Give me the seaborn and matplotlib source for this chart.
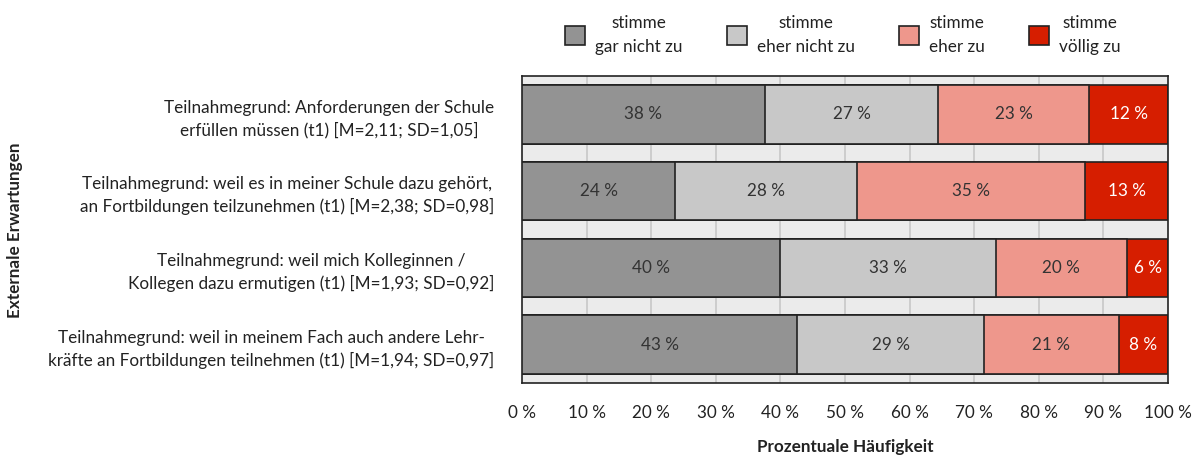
import matplotlib
matplotlib.use("Agg")
import matplotlib.pyplot as plt
import seaborn as sns
import numpy as np
import pandas as pd
from matplotlib.patches import Patch
from matplotlib.ticker import FixedLocator

items = [
    "Teilnahmegrund: Anforderungen der Schule\nerfüllen müssen (t1) [M=2,11; SD=1,05]",
    "Teilnahmegrund: weil es in meiner Schule dazu gehört,\nan Fortbildungen teilzunehmen (t1) [M=2,38; SD=0,98]",
    "Teilnahmegrund: weil mich Kolleginnen /\nKollegen dazu ermutigen (t1) [M=1,93; SD=0,92]",
    "Teilnahmegrund: weil in meinem Fach auch andere Lehr-\nkräfte an Fortbildungen teilnehmen (t1) [M=1,94; SD=0,97]",
]
categories = ["stimme\ngar nicht zu", "stimme\neher nicht zu", "stimme\neher zu", "stimme\nvöllig zu"]
gar_nicht = [37.6, 23.7, 39.9, 42.6]
eher_nicht = [26.8, 28.2, 33.4, 28.9]
eher_zu = [23.4, 35.3, 20.4, 20.9]
voellig = [12.2, 12.8, 6.3, 7.6]
labels = [["38 %", "27 %", "23 %", "12 %"],
          ["24 %", "28 %", "35 %", "13 %"],
          ["40 %", "33 %", "20 %", "6 %"],
          ["43 %", "29 %", "21 %", "8 %"]]
xticks = [0, 10, 20, 30, 40, 50, 60, 70, 80, 90, 100]

colors = ["#939393", "#c8c8c8", "#ee978c", "#d61e00"]
text_colors = ["#333333", "#333333", "#333333", "#ffffff"]

sns.set_theme(style="white")
plt.rcParams['font.family'] = ['Lato', 'DejaVu Sans']
FS = 12.3

series = [gar_nicht, eher_nicht, eher_zu, voellig]
vals = np.array(series).T  # rows: items
cum = np.cumsum(vals, axis=1)

fig = plt.figure(figsize=(11.98, 4.55), dpi=100)
ax = fig.add_axes([522/1198, 1-383/455, (1168-522)/1198, (383-76)/455])
ax.set_facecolor("#ebebeb")
for x in xticks[1:-1]:
    ax.axvline(x, color="#c8c8c8", lw=1.2, zorder=0)

df = pd.DataFrame({"item": np.repeat(items, 4),
                   "k": np.tile(range(4), len(items)),
                   "cum": cum.ravel()})
for k in range(3, -1, -1):
    sub = df[df["k"] == k]
    sns.barplot(data=sub, y="item", x="cum", order=items, orient="h",
                color=colors[k], saturation=1, width=0.76,
                edgecolor="#222222", linewidth=1.2, ax=ax, zorder=2 + (3 - k))

for i in range(len(items)):
    for k in range(4):
        left = cum[i, k] - vals[i, k]
        ax.text(left + vals[i, k] / 2, i, labels[i][k], ha="center", va="center",
                fontsize=FS, color=text_colors[k], zorder=10)

ax.set_xlim(0, 100)
ax.set_ylim(len(items) - 0.5, -0.5)
ax.set_xticks(xticks)
ax.set_xticklabels([f"{t} %" for t in xticks], fontsize=FS, color="#222222")
ax.tick_params(axis="x", direction="out", length=5, width=1.2, color="#222222", pad=11)
ax.tick_params(axis="y", which="major", length=0, pad=20)
ax.yaxis.set_minor_locator(FixedLocator(np.arange(-0.5, len(items), 1)))
ax.tick_params(axis="y", which="minor", direction="out", length=5, width=1.2, color="#222222")
for lab in ax.get_yticklabels():
    lab.set_multialignment("center")
    lab.set_linespacing(1.45)
    lab.set_fontsize(FS)
    lab.set_color("#222222")
for s in ax.spines.values():
    s.set_visible(True)
    s.set_color("#222222")
    s.set_linewidth(1.2)
ax.set_ylabel("")
ax.set_xlabel("Prozentuale Häufigkeit", fontsize=FS, fontweight="bold", color="#222222", labelpad=13)
fig.text(15/1198, 1 - 230/455, "Externale Erwartungen", rotation=90, ha="center", va="center",
         fontsize=FS, fontweight="bold", color="#222222")

handles = [Patch(facecolor=c, edgecolor="#222222", linewidth=1.2) for c in colors]
fig.legend(handles, categories, loc="center", bbox_to_anchor=(843/1198, 1 - 35/455), ncol=4,
           frameon=False, fontsize=FS, handlelength=1.15, handleheight=1.3,
           columnspacing=2.6, handletextpad=0.6, labelcolor="#222222")
for t in fig.legends[0].get_texts():
    t.set_multialignment("center")
    t.set_linespacing(1.55)

fig.savefig("out.png", dpi=100)
